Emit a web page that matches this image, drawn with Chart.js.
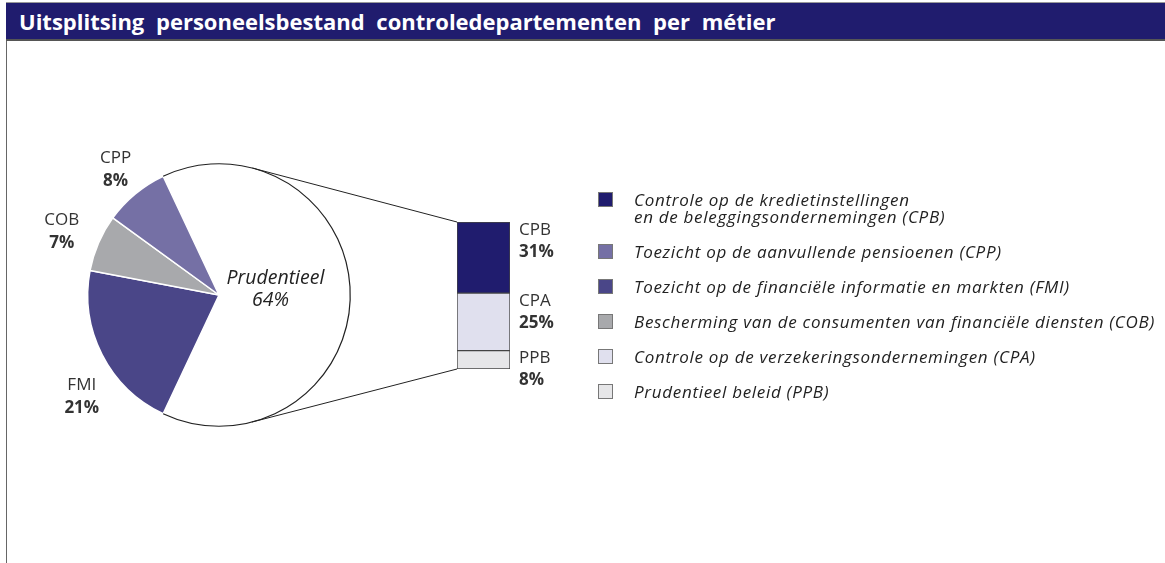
<!DOCTYPE html>
<html>
<head>
<meta charset="utf-8">
<script src="https://cdn.jsdelivr.net/npm/chart.js@4"></script>
<style>
  html, body { margin: 0; padding: 0; background: #fff; }
  body { width: 1165px; height: 563px; position: relative; overflow: hidden; font-family: "Open Sans", "Noto Sans", sans-serif; }
  #frame { position: absolute; left: 6px; top: 2px; width: 1165px; height: 600px; border-left: 1px solid #666; }
  #title { position: absolute; left: 6px; top: 2px; width: 1158px; height: 36px; background: #201c6e;
    border-top: 1px solid #999; border-bottom: 2px solid #555; color: #fff; font-weight: bold; font-size: 22px;
    line-height: 36px; padding-left: 13px; box-sizing: content-box; word-spacing: 6px; }
  canvas { position: absolute; left: 0; top: 0; }
  #legend { position: absolute; left: 598px; top: 191px; margin: 0; padding: 0; list-style: none; }
  #legend li { position: relative; padding-left: 36px; margin-bottom: 18px; font-style: italic; font-size: 17px;
    letter-spacing: 0.7px; line-height: 17px; color: #222; white-space: nowrap; }
  #legend li span.sw { position: absolute; left: 0; top: 1px; width: 13px; height: 13px; border: 1px solid #777; }
</style>
</head>
<body>
<div id="frame"></div>
<div id="title">Uitsplitsing personeelsbestand controledepartementen per métier</div>
<canvas id="pieChart" width="1165" height="563"></canvas>
<canvas id="barChart" width="1165" height="563"></canvas>
<ul id="legend"></ul>
<script>
// pie: main split
const pieLabels = ['Prudentieel', 'FMI', 'COB', 'CPP'];
const pieValues = [64, 21, 7, 8];
const pieColors = ['#ffffff', '#4a4688', '#a8a9ac', '#7570a5'];

// bar: breakdown of Prudentieel (bottom to top)
const barLabels = ['PPB', 'CPA', 'CPB'];
const barValues = [8, 25, 31];
const barColors = ['#e6e6e8', '#e0e0ee', '#201c6e'];

// legend
const legendTexts = [
  'Controle op de kredietinstellingen<br>en de beleggingsondernemingen (CPB)',
  'Toezicht op de aanvullende pensioenen (CPP)',
  'Toezicht op de financiële informatie en markten (FMI)',
  'Bescherming van de consumenten van financiële diensten (COB)',
  'Controle op de verzekeringsondernemingen (CPA)',
  'Prudentieel beleid (PPB)'
];
const legendColors = ['#201c6e', '#7570a5', '#4a4688', '#a8a9ac', '#e0e0ee', '#e6e6e8'];

const FONT = '"Open Sans", "Noto Sans", sans-serif';

const $legend = document.getElementById('legend');
legendTexts.forEach((t, i) => {
  const li = document.createElement('li');
  li.innerHTML = `<span class="sw" style="background:${legendColors[i]}"></span>${t}`;
  $legend.appendChild(li);
});

// labels next to the stacked bar
const barLabelPlugin = {
  id: 'barLabels',
  afterDatasetsDraw(chart) {
    const ctx = chart.ctx;
    ctx.save();
    ctx.textBaseline = 'middle';
    ctx.textAlign = 'left';
    ctx.fillStyle = '#333';
    chart.data.datasets.forEach((ds, i) => {
      const bar = chart.getDatasetMeta(i).data[0];
      const x = bar.x + bar.width / 2 + 9;
      const top = Math.min(bar.y, bar.base);
      ctx.font = '17px ' + FONT;
      ctx.fillText(ds.label, x, top + 8);
      ctx.font = 'bold 17px ' + FONT;
      ctx.fillText(ds.data[0] + '%', x, top + 30);
    });
    ctx.restore();
  }
};

const barChart = new Chart(document.getElementById('barChart'), {
  type: 'bar',
  data: {
    labels: ['Prudentieel'],
    datasets: barLabels.map((l, i) => ({
      label: l,
      data: [barValues[i]],
      backgroundColor: barColors[i],
      borderColor: '#444',
      borderWidth: 1,
      borderSkipped: false,
      barPercentage: 1,
      categoryPercentage: 1
    }))
  },
  options: {
    responsive: false,
    animation: false,
    layout: { padding: { left: 457, right: 655, top: 222, bottom: 194 } },
    plugins: { legend: { display: false }, tooltip: { enabled: false } },
    scales: {
      x: { stacked: true, display: false },
      y: { stacked: true, display: false, min: 0, max: barValues.reduce((a, b) => a + b, 0) }
    }
  },
  plugins: [barLabelPlugin]
});

// outline of the white slice, connectors and slice labels
const piePlugin = {
  id: 'pieExtras',
  afterDatasetsDraw(chart) {
    const ctx = chart.ctx;
    const arcs = chart.getDatasetMeta(0).data;
    const main = arcs[0];
    const cx = main.x, cy = main.y, r = main.outerRadius;
    ctx.save();
    ctx.strokeStyle = '#222';
    ctx.lineWidth = 1.2;
    ctx.beginPath();
    ctx.arc(cx, cy, r, main.startAngle, main.endAngle);
    ctx.stroke();

    // connectors: tangents from bar corners to the circle
    const metas = barChart.data.datasets.map((d, i) => barChart.getDatasetMeta(i).data[0]);
    const topBar = metas[metas.length - 1], botBar = metas[0];
    const left = topBar.x - topBar.width / 2;
    const corners = [[left, Math.min(topBar.y, topBar.base), -1], [left, Math.max(botBar.y, botBar.base), 1]];
    ctx.lineWidth = 1;
    corners.forEach(([px, py, side]) => {
      const dx = px - cx, dy = py - cy;
      const d = Math.hypot(dx, dy);
      const th = Math.atan2(dy, dx);
      const a = Math.acos(r / d);
      const t = th + side * a;
      ctx.beginPath();
      ctx.moveTo(cx + r * Math.cos(t), cy + r * Math.sin(t));
      ctx.lineTo(px, py);
      ctx.stroke();
    });

    // outside labels for colored slices
    const extra = { 1: [40, -0.17], 2: [38, -0.03], 3: [31, 0] };
    ctx.textAlign = 'center';
    ctx.textBaseline = 'middle';
    ctx.fillStyle = '#333';
    for (let i = 1; i < arcs.length; i++) {
      const arc = arcs[i];
      const mid = (arc.startAngle + arc.endAngle) / 2 + extra[i][1];
      const rr = r + extra[i][0];
      const x = cx + rr * Math.cos(mid), y = cy + rr * Math.sin(mid);
      ctx.font = '17px ' + FONT;
      ctx.fillText(pieLabels[i], x, y - 12);
      ctx.font = 'bold 17px ' + FONT;
      ctx.fillText(pieValues[i] + '%', x, y + 11);
    }

    // inside label for the white slice
    const mid0 = (main.startAngle + main.endAngle) / 2;
    const lx = cx + r * 0.43 * Math.cos(mid0), ly = cy + r * 0.43 * Math.sin(mid0);
    ctx.font = 'italic 19.5px ' + FONT;
    ctx.fillStyle = '#222';
    ctx.fillText(pieLabels[0], lx, ly - 17);
    ctx.fillText(pieValues[0] + '%', lx - 5, ly + 5);
    ctx.restore();
  }
};

new Chart(document.getElementById('pieChart'), {
  type: 'pie',
  data: {
    labels: pieLabels,
    datasets: [{
      data: pieValues,
      backgroundColor: pieColors,
      borderColor: '#ffffff',
      borderWidth: 1.5
    }]
  },
  options: {
    responsive: false,
    animation: false,
    rotation: -25.2,
    layout: { padding: { left: 87, right: 814, top: 163, bottom: 136 } },
    plugins: { legend: { display: false }, tooltip: { enabled: false } }
  },
  plugins: [piePlugin]
});
</script>
</body>
</html>
